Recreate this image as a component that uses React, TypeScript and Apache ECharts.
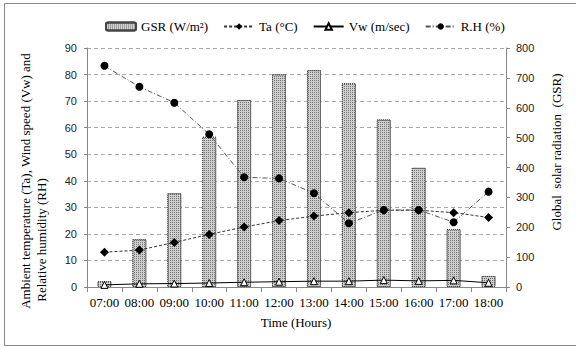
import React, { useEffect, useRef } from "react";
import * as echarts from "echarts";

const categories = ["07:00", "08:00", "09:00", "10:00", "11:00", "12:00", "13:00", "14:00", "15:00", "16:00", "17:00", "18:00"];
const gsr = [20, 160, 314, 503, 626, 712, 726, 682, 561, 399, 194, 37];
const ta = [13.1, 13.9, 16.8, 19.8, 22.6, 25.0, 26.7, 28.0, 28.9, 28.9, 28.0, 26.2];
const vw = [0.8, 1.2, 1.3, 1.5, 1.8, 2.0, 2.2, 2.2, 2.6, 2.3, 2.5, 1.6];
const rh = [83.3, 75.4, 69.4, 57.5, 41.3, 40.9, 35.3, 24.0, 29.0, 29.0, 24.4, 35.9];

const serif = "Liberation Serif";
const sans = "Liberation Sans";

export default function App() {
  const ref = useRef<HTMLDivElement>(null);
  useEffect(() => {
    if (!ref.current) return;
    const chart = echarts.init(ref.current, null, { renderer: "svg" });
    chart.setOption({
      animation: false,
      backgroundColor: "#fff",
      legend: {
        top: 15,
        left: 100,
        itemGap: 15,
        itemWidth: 30,
        itemHeight: 8,
        textStyle: { fontFamily: serif, fontSize: 13, color: "#000" },
        data: ["GSR (W/m²)", "Ta (°C)", "Vw (m/sec)", "R.H (%)"],
      },
      grid: { left: 87, right: 70, top: 48, bottom: 60 },
      xAxis: {
        type: "category",
        data: categories,
        boundaryGap: true,
        axisLine: { lineStyle: { color: "#888" } },
        axisTick: { show: true, inside: false, length: 5, lineStyle: { color: "#888" } },
        axisLabel: { fontFamily: serif, fontSize: 13, color: "#000", margin: 9, interval: 0 },
      },
      yAxis: [
        {
          type: "value",
          min: 0,
          max: 90,
          interval: 10,
          axisLine: { show: true, lineStyle: { color: "#888" } },
          axisTick: { show: true, length: 3, lineStyle: { color: "#888" } },
          axisLabel: { fontFamily: sans, fontSize: 11, color: "#222", margin: 10 },
          splitLine: { show: true, lineStyle: { color: "#aaa", type: [4, 3] } },
        },
        {
          type: "value",
          min: 0,
          max: 800,
          interval: 100,
          position: "right",
          axisLine: { show: true, lineStyle: { color: "#888" } },
          axisTick: { show: true, length: 4, lineStyle: { color: "#888" } },
          axisLabel: { fontFamily: sans, fontSize: 11, color: "#222", margin: 10 },
          splitLine: { show: false },
        },
      ],
      series: [
        {
          name: "GSR (W/m²)",
          type: "bar",
          yAxisIndex: 1,
          data: gsr,
          barWidth: 14,
          itemStyle: {
            color: "#cfcfcf",
            borderColor: "#444",
            borderWidth: 1,
            borderType: [1, 1],
            decal: {
              symbol: "rect",
              symbolSize: 1,
              color: "rgba(40,40,40,0.55)",
              dashArrayX: [1, 1],
              dashArrayY: [1, 1],
              rotation: 0,
            },
          },
        },
        {
          name: "Ta (°C)",
          type: "line",
          data: ta,
          symbol: "diamond",
          symbolSize: 9,
          itemStyle: { color: "#000" },
          lineStyle: { color: "#333", width: 1, type: [3, 2] },
          z: 5,
        },
        {
          name: "Vw (m/sec)",
          type: "line",
          data: vw,
          symbol: "triangle",
          symbolSize: 7,
          itemStyle: { color: "#fff", borderColor: "#000", borderWidth: 1 },
          lineStyle: { color: "#000", width: 1, type: "solid" },
          z: 5,
        },
        {
          name: "R.H (%)",
          type: "line",
          data: rh,
          symbol: "circle",
          symbolSize: 8,
          itemStyle: { color: "#000" },
          lineStyle: { color: "#555", width: 1, type: [5, 2, 1, 2] },
          z: 6,
        },
      ],
      graphic: [
        {
          type: "rect",
          shape: { x: 4.5, y: 3.5, width: 600, height: 342 },
          style: { fill: "none", stroke: "#888", lineWidth: 1 },
          silent: true,
        },
        {
          type: "text",
          x: 25,
          y: 181,
          rotation: Math.PI / 2,
          style: {
            text: "Ambient temperature (Ta), Wind speed (Vw) and",
            fontFamily: serif,
            fontSize: 13,
            fill: "#000",
            align: "center",
            verticalAlign: "middle",
          },
        },
        {
          type: "text",
          x: 41,
          y: 240,
          rotation: Math.PI / 2,
          style: {
            text: "Relative humidity (RH)",
            fontFamily: serif,
            fontSize: 13,
            fill: "#000",
            align: "center",
            verticalAlign: "middle",
          },
        },
        {
          type: "text",
          x: 556,
          y: 152,
          rotation: Math.PI / 2,
          style: {
            text: "Global  solar radiation  (GSR)",
            fontFamily: serif,
            fontSize: 13,
            fill: "#000",
            align: "center",
            verticalAlign: "middle",
          },
        },
        {
          type: "text",
          x: 296,
          y: 322,
          style: {
            text: "Time (Hours)",
            fontFamily: serif,
            fontSize: 13,
            fill: "#000",
            align: "center",
            verticalAlign: "middle",
          },
        },
      ],
    });
    return () => chart.dispose();
  }, []);
  return (
    <div
      ref={ref}
      style={{ position: "absolute", left: 0, top: 0, width: 576, height: 347, background: "#fff" }}
    />
  );
}
